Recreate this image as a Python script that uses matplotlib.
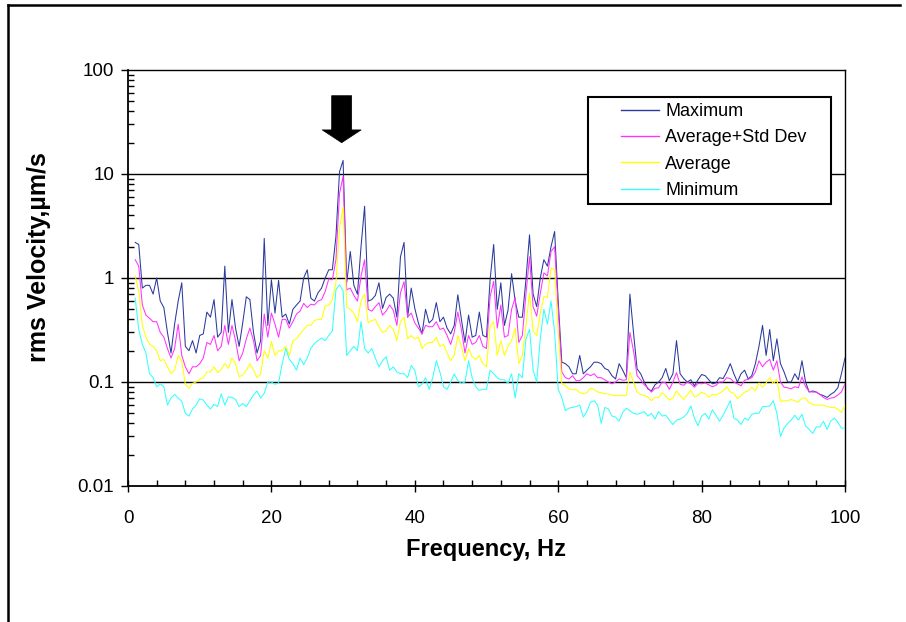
import numpy as np
import matplotlib
matplotlib.use("Agg")
import matplotlib.pyplot as plt
from matplotlib import ticker
from matplotlib.lines import Line2D
from matplotlib.patches import Rectangle

# ---------------- data (0.5 Hz steps, 1..100 Hz) ----------------
maximum = [
    2.2, 2.1, 0.8, 0.85, 0.85, 0.7, 1.0, 0.6, 0.52, 0.3,
    0.19, 0.36, 0.6, 0.9, 0.22, 0.2, 0.25, 0.19, 0.28, 0.29,
    0.47, 0.42, 0.62, 0.27, 0.3, 1.3, 0.3, 0.62, 0.33, 0.22,
    0.37, 0.66, 0.62, 0.3, 0.19, 0.25, 2.4, 0.35, 0.96, 0.46,
    0.95, 0.42, 0.45, 0.36, 0.5, 0.55, 0.6, 1.0, 1.2, 0.64,
    0.6, 0.72, 0.8, 1.0, 1.2, 1.2, 2.5, 10.5, 13.5, 0.9,
    1.8, 0.85, 0.7, 2.0, 4.9, 0.6, 0.62, 0.68, 0.9, 0.51,
    0.65, 0.7, 0.64, 0.42, 1.6, 2.2, 0.42, 0.8, 0.51, 0.37,
    0.29, 0.5, 0.37, 0.4, 0.58, 0.38, 0.42, 0.33, 0.29, 0.35,
    0.69, 0.4, 0.24, 0.44, 0.27, 0.28, 0.47, 0.28, 0.27, 0.96,
    2.1, 0.5, 0.9, 0.35, 0.49, 1.1, 0.6, 0.42, 0.42, 0.96,
    2.6, 0.7, 0.53, 1.0, 1.5, 1.3, 2.0, 2.8, 0.6, 0.155,
    0.15, 0.14, 0.12, 0.12, 0.18, 0.12, 0.13, 0.14, 0.155, 0.155,
    0.15, 0.135, 0.13, 0.115, 0.107, 0.15, 0.13, 0.11, 0.7, 0.3,
    0.134, 0.12, 0.1, 0.086, 0.082, 0.094, 0.1, 0.11, 0.135, 0.103,
    0.12, 0.25, 0.12, 0.108, 0.1, 0.105, 0.092, 0.105, 0.118, 0.115,
    0.105, 0.096, 0.098, 0.11, 0.108, 0.125, 0.15, 0.12, 0.1, 0.12,
    0.13, 0.107, 0.115, 0.15, 0.22, 0.35, 0.18, 0.32, 0.16, 0.26,
    0.15, 0.125, 0.1, 0.1, 0.12, 0.105, 0.16, 0.1, 0.08, 0.082,
    0.08, 0.076, 0.074, 0.071, 0.076, 0.08, 0.088, 0.12, 0.17,
]

avg_plus_std = [
    1.5, 1.3, 0.55, 0.44, 0.41, 0.38, 0.38, 0.3, 0.27, 0.21,
    0.17, 0.21, 0.36, 0.18, 0.14, 0.12, 0.14, 0.14, 0.15, 0.17,
    0.24, 0.23, 0.28, 0.2, 0.22, 0.35, 0.23, 0.35, 0.25, 0.16,
    0.19, 0.26, 0.33, 0.25, 0.16, 0.18, 0.45, 0.27, 0.46, 0.36,
    0.27, 0.4, 0.4, 0.33, 0.38, 0.45, 0.48, 0.57, 0.52, 0.56,
    0.55, 0.6, 0.62, 0.74, 0.98, 0.96, 1.5, 6.5, 9.5, 0.77,
    0.8, 0.68, 0.6, 1.04, 1.5, 0.5, 0.48, 0.53, 0.58, 0.44,
    0.48, 0.55, 0.49, 0.35, 0.72, 0.92, 0.42, 0.46, 0.37, 0.33,
    0.29, 0.35, 0.34, 0.34, 0.38, 0.32, 0.33, 0.28, 0.23, 0.3,
    0.47, 0.32, 0.19, 0.28, 0.23, 0.24, 0.28, 0.22, 0.21, 0.66,
    0.93, 0.33, 0.55, 0.27, 0.28, 0.5, 0.65, 0.24, 0.28, 0.7,
    1.6, 0.53, 0.43, 0.71, 1.12, 1.05, 1.8, 2.0, 0.5, 0.125,
    0.11, 0.107, 0.115, 0.103, 0.103, 0.11, 0.12, 0.115, 0.12, 0.11,
    0.11, 0.105, 0.1, 0.096, 0.1, 0.107, 0.104, 0.105, 0.3, 0.2,
    0.115, 0.105, 0.094, 0.088, 0.08, 0.087, 0.088, 0.1, 0.098, 0.085,
    0.1, 0.123, 0.095, 0.093, 0.1, 0.096, 0.089, 0.097, 0.096, 0.098,
    0.094, 0.09, 0.093, 0.1, 0.1, 0.11, 0.108, 0.1, 0.096, 0.092,
    0.104, 0.106, 0.11, 0.125, 0.16, 0.14, 0.155, 0.165, 0.13, 0.16,
    0.1, 0.089, 0.088, 0.086, 0.09, 0.088, 0.112, 0.09, 0.081, 0.08,
    0.08, 0.076, 0.071, 0.068, 0.07, 0.071, 0.075, 0.08, 0.096,
]

average = [
    1.05, 0.75, 0.35, 0.27, 0.23, 0.22, 0.2, 0.16, 0.165, 0.14,
    0.12, 0.13, 0.18, 0.16, 0.095, 0.087, 0.097, 0.1, 0.106, 0.11,
    0.125, 0.125, 0.14, 0.123, 0.132, 0.15, 0.135, 0.17, 0.15, 0.112,
    0.117, 0.13, 0.15, 0.13, 0.11, 0.12, 0.2, 0.17, 0.245, 0.18,
    0.2, 0.2, 0.22, 0.18, 0.25, 0.26, 0.29, 0.32, 0.35, 0.35,
    0.39, 0.4, 0.4, 0.54, 0.55, 0.62, 0.9, 3.0, 4.8, 0.53,
    0.5, 0.46, 0.38, 0.6, 0.7, 0.37, 0.39, 0.4, 0.34, 0.3,
    0.31, 0.35, 0.32, 0.25, 0.38, 0.42, 0.26, 0.28, 0.26, 0.27,
    0.21, 0.23, 0.24, 0.24, 0.27, 0.22, 0.23, 0.19, 0.16, 0.18,
    0.28, 0.22, 0.16, 0.21, 0.175, 0.165, 0.18, 0.15, 0.14, 0.34,
    0.38, 0.18, 0.25, 0.18, 0.22, 0.25, 0.33, 0.15, 0.18, 0.35,
    0.72, 0.31, 0.28, 0.46, 0.66, 0.65, 1.25, 1.2, 0.3, 0.097,
    0.092, 0.086, 0.084, 0.085, 0.079, 0.077, 0.079, 0.087, 0.085, 0.08,
    0.079, 0.077, 0.077, 0.075, 0.074, 0.074, 0.074, 0.074, 0.125, 0.1,
    0.08, 0.076, 0.074, 0.072, 0.066, 0.071, 0.071, 0.079, 0.073, 0.067,
    0.07, 0.082, 0.074, 0.068, 0.075, 0.083, 0.072, 0.074, 0.08, 0.077,
    0.071, 0.076, 0.075, 0.078, 0.082, 0.09, 0.08, 0.078, 0.069, 0.074,
    0.08, 0.082, 0.089, 0.082, 0.098, 0.089, 0.098, 0.11, 0.096, 0.107,
    0.065, 0.066, 0.066, 0.068, 0.066, 0.064, 0.07, 0.07, 0.063, 0.061,
    0.06, 0.06, 0.06, 0.058, 0.057, 0.057, 0.055, 0.051, 0.06,
]

minimum = [
    0.64, 0.32, 0.23, 0.19, 0.12, 0.11, 0.09, 0.096, 0.09, 0.06,
    0.07, 0.076, 0.07, 0.065, 0.05, 0.047, 0.055, 0.06, 0.069, 0.067,
    0.06, 0.055, 0.061, 0.058, 0.077, 0.06, 0.072, 0.071, 0.068, 0.058,
    0.062, 0.058, 0.066, 0.075, 0.082, 0.07, 0.078, 0.1, 0.1, 0.095,
    0.098, 0.15, 0.21, 0.165, 0.15, 0.13, 0.17, 0.147, 0.17, 0.21,
    0.235, 0.25, 0.265, 0.25, 0.28, 0.31, 0.77, 0.86, 0.75, 0.18,
    0.2, 0.22, 0.2, 0.38, 0.21, 0.19, 0.21, 0.17, 0.14, 0.16,
    0.175, 0.13, 0.14, 0.125, 0.12, 0.12, 0.11, 0.144, 0.13, 0.09,
    0.095, 0.11, 0.085, 0.11, 0.16, 0.125, 0.09, 0.085, 0.1, 0.12,
    0.103, 0.097, 0.1, 0.16, 0.11, 0.09, 0.083, 0.085, 0.085, 0.13,
    0.12, 0.11, 0.105, 0.105, 0.097, 0.12, 0.07, 0.12, 0.11, 0.26,
    0.32, 0.13, 0.1, 0.26, 0.5, 0.36, 0.6, 0.3, 0.085, 0.071,
    0.053, 0.056, 0.057, 0.058, 0.06, 0.046, 0.052, 0.064, 0.066, 0.06,
    0.04, 0.057, 0.055, 0.047, 0.046, 0.042, 0.051, 0.056, 0.053, 0.05,
    0.049, 0.05, 0.052, 0.047, 0.05, 0.044, 0.052, 0.047, 0.048, 0.043,
    0.039, 0.043, 0.044, 0.046, 0.05, 0.059, 0.045, 0.038, 0.047, 0.05,
    0.044, 0.054, 0.048, 0.042, 0.048, 0.056, 0.066, 0.045, 0.043, 0.039,
    0.045, 0.043, 0.049, 0.05, 0.05, 0.058, 0.058, 0.059, 0.066, 0.05,
    0.03, 0.036, 0.04, 0.043, 0.048, 0.043, 0.049, 0.038, 0.035, 0.032,
    0.037, 0.037, 0.042, 0.035, 0.042, 0.045, 0.041, 0.036, 0.036,
]

series_names = ["Maximum", "Average+Std Dev", "Average", "Minimum"]
series_colors = ["#2A3A9C", "#FF33FF", "#FFFF00", "#33FFFF"]
series_values = [maximum, avg_plus_std, average, minimum]

x_ticks = [0, 20, 40, 60, 80, 100]
y_ticks = [0.01, 0.1, 1, 10, 100]
arrow_freq = 29.8          # Hz, location of the marked peak
arrow_top, arrow_tip = 56.6, 20.0

# ---------------- figure ----------------
W, H = 906, 622
fig = plt.figure(figsize=(W / 100, H / 100), dpi=100)
fig.patch.set_facecolor("white")

ax_l, ax_r, ax_t, ax_b = 128, 845, 70, 486
ax = fig.add_axes([ax_l / W, 1 - ax_b / H, (ax_r - ax_l) / W, (ax_b - ax_t) / H])

for name, col, vals in zip(series_names, series_colors, series_values):
    freq = 1.0 + 0.5 * np.arange(len(vals))
    ax.plot(freq, vals, color=col, lw=0.75, label=name, zorder=3)

ax.set_yscale("log")
ax.set_xlim(0, 100)
ax.set_ylim(0.01, 100)

# gridlines at the decades
for yv in [0.1, 1, 10]:
    ax.axhline(yv, color="black", lw=1.0, zorder=2)

ax.set_xticks(x_ticks)
ax.xaxis.set_minor_locator(ticker.MultipleLocator(4))
ax.set_yticks(y_ticks)
ax.yaxis.set_minor_locator(ticker.LogLocator(base=10, subs=np.arange(2, 10)))
ax.yaxis.set_minor_formatter(ticker.NullFormatter())
ax.yaxis.set_major_formatter(ticker.FuncFormatter(lambda v, _: f"{v:g}"))

tick_font = ["Liberation Sans", "DejaVu Sans"]
ax.tick_params(axis="x", which="major", direction="inout", length=8, width=1,
               pad=13, labelsize=13.5)
ax.tick_params(axis="x", which="minor", direction="in", length=4, width=1)
ax.tick_params(axis="y", which="major", direction="out", length=5, width=1,
               pad=5, labelsize=13.5)
ax.tick_params(axis="y", which="minor", direction="in", length=4, width=1)
for lab in ax.get_xticklabels() + ax.get_yticklabels():
    lab.set_family(tick_font)

for sp in ax.spines.values():
    sp.set_color("black")
    sp.set_linewidth(1.0)
ax.spines["left"].set_linewidth(1.3)
ax.spines["bottom"].set_linewidth(1.3)

lab_font = ["Liberation Sans", "DejaVu Sans"]
ax.set_xlabel("Frequency, Hz", fontsize=17, fontweight="bold", family=lab_font)
ax.set_ylabel("rms Velocity,µm/s", fontsize=18, fontweight="bold", family=lab_font)
ax.xaxis.set_label_coords(0.5, (ax_b - 538) / (ax_b - ax_t))
ax.yaxis.set_label_coords((51 - ax_l) / (ax_r - ax_l), (ax_b - 257) / (ax_b - ax_t))

# legend box
bx0, bx1, by0, by1 = 588, 831, 97, 204
sx = lambda px: (px - ax_l) / (ax_r - ax_l)
sy = lambda py: (ax_b - py) / (ax_b - ax_t)
ax.add_patch(Rectangle((sx(bx0), sy(by1)), sx(bx1) - sx(bx0), sy(by0) - sy(by1),
                       transform=ax.transAxes, facecolor="white", edgecolor="black",
                       lw=1.5, zorder=5))
leg = ax.legend(loc="upper left", bbox_to_anchor=(sx(621), sy(103)), frameon=False,
                borderpad=0, borderaxespad=0, handlelength=2.1, handletextpad=0.35,
                labelspacing=0.52, prop={"family": lab_font, "size": 13})
leg.set_zorder(6)
for lh in leg.get_lines():
    lh.set_linewidth(1.0)

# arrow marking the peak
ax.annotate("", xy=(arrow_freq, arrow_tip), xytext=(arrow_freq, arrow_top),
            arrowprops=dict(arrowstyle="simple,head_length=0.46,head_width=1.4,tail_width=0.72",
                            mutation_scale=20, fc="black", ec="black", lw=0.5,
                            shrinkA=0, shrinkB=0), zorder=7)

# outer chart frame (top and left edges visible)
fig.add_artist(Line2D([8 / W, 900 / W], [1 - 5 / H, 1 - 5 / H], transform=fig.transFigure,
                      color="black", lw=1.8))
fig.add_artist(Line2D([8 / W, 8 / W], [1 - 5 / H, 0], transform=fig.transFigure,
                      color="black", lw=1.8))

fig.savefig("out.png", dpi=100, facecolor="white")
